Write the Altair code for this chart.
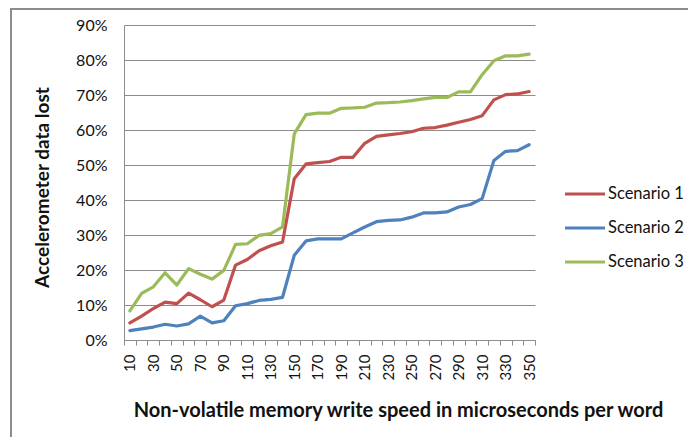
import altair as alt
import pandas as pd

speeds = list(range(10, 360, 10))
scenario1 = [4.9, 6.8, 9.0, 10.8, 10.4, 13.4, 11.5, 9.5, 11.4, 21.4, 23.0, 25.5, 26.9, 28.0,
             46.1, 50.3, 50.7, 51.0, 52.2, 52.2, 56.2, 58.2, 58.6, 59.0, 59.5, 60.5, 60.7,
             61.4, 62.2, 63.0, 64.1, 68.6, 70.1, 70.3, 71.0]
scenario2 = [2.7, 3.2, 3.7, 4.5, 4.0, 4.6, 6.8, 4.9, 5.5, 9.8, 10.4, 11.3, 11.6, 12.2,
             24.2, 28.3, 28.9, 28.9, 28.9, 30.6, 32.3, 33.8, 34.2, 34.3, 35.1, 36.3, 36.3,
             36.6, 38.0, 38.7, 40.4, 51.3, 53.9, 54.1, 55.8]
scenario3 = [8.3, 13.3, 15.2, 19.2, 15.7, 20.4, 18.8, 17.4, 19.9, 27.3, 27.5, 29.9, 30.4, 32.3,
             58.9, 64.4, 64.8, 64.8, 66.2, 66.3, 66.5, 67.7, 67.8, 68.0, 68.4, 68.9, 69.3,
             69.3, 70.9, 70.9, 75.8, 79.8, 81.2, 81.2, 81.7]
series_names = ["Scenario 1", "Scenario 2", "Scenario 3"]
series_colors = ["#C0504D", "#4F81BD", "#9BBB59"]
y_ticks = list(range(0, 100, 10))
x_tick_bounds = list(range(5, 360, 10))

rows = []
for name, vals in zip(series_names, [scenario1, scenario2, scenario3]):
    for s, v in zip(speeds, vals):
        rows.append({"speed": s, "lost": v, "series": name})
df = pd.DataFrame(rows)

FONT = "Lato"
GRID = "#8c8c8c"
W, H = 411, 315
half = W / 35 / 2

lines = alt.Chart(df).mark_line(strokeWidth=3.2, strokeCap="round", strokeJoin="round").encode(
    x=alt.X("speed:Q",
            scale=alt.Scale(domain=[5, 355], nice=False, zero=False),
            axis=alt.Axis(values=x_tick_bounds,
                          labelExpr="(datum.value - 5) % 20 == 0 ? '' + (datum.value + 5) : ''",
                          labelOffset=half, labelAngle=-90, labelAlign="right",
                          labelBaseline="middle", labelOverlap=False, labelFlush=False,
                          tickSize=5, tickColor=GRID, domainColor=GRID, labelPadding=9,
                          grid=False, labelFont=FONT, labelFontSize=15, labelColor="#111",
                          title="Non-volatile memory write speed in microseconds per word",
                          titleFont=FONT, titleFontSize=20, titleFontWeight="bold",
                          titleColor="#111", titleX=274, titleY=70, titleAlign="center",
                          titleBaseline="middle")),
    y=alt.Y("lost:Q",
            scale=alt.Scale(domain=[0, 90], nice=False),
            axis=alt.Axis(values=y_ticks, labelExpr="datum.value + '%'", grid=True,
                          gridColor=GRID, gridWidth=1, ticks=False, domainColor=GRID,
                          labelPadding=17, labelFont=FONT, labelFontSize=16,
                          labelColor="#111",
                          title="Accelerometer data lost", titleFont=FONT, titleFontSize=19,
                          titleFontWeight="bold", titleColor="#111", titleX=-82, titleY=162,
                          titleAlign="center", titleBaseline="middle", titleAngle=-90)),
    color=alt.Color("series:N",
                    scale=alt.Scale(domain=series_names, range=series_colors),
                    legend=alt.Legend(orient="none", legendX=449, legendY=157, title=None,
                                      symbolType="M-2,0H2", symbolSize=400,
                                      symbolStrokeWidth=3.2, labelOffset=11, rowPadding=13,
                                      labelFont=FONT, labelFontSize=16.5, labelColor="#111",
                                      padding=0)),
)

frame = pd.DataFrame({"k": [0]})
left_border = alt.Chart(frame).mark_rule(color=GRID, strokeWidth=2).encode(
    x=alt.value(-113), y=alt.value(-17), y2=alt.value(H + 100))
top_border = alt.Chart(frame).mark_rule(color=GRID, strokeWidth=2).encode(
    x=alt.value(-113), x2=alt.value(W + 160), y=alt.value(-16))

chart = alt.layer(left_border, top_border, lines).properties(
    width=W, height=H,
    autosize=alt.AutoSizeParams(type="none"),
    padding={"left": 116, "top": 17, "right": 153, "bottom": 97},
    background="white",
).configure_view(stroke=None)

chart.save("out.html", embed_options={"renderer": "svg", "actions": False})
